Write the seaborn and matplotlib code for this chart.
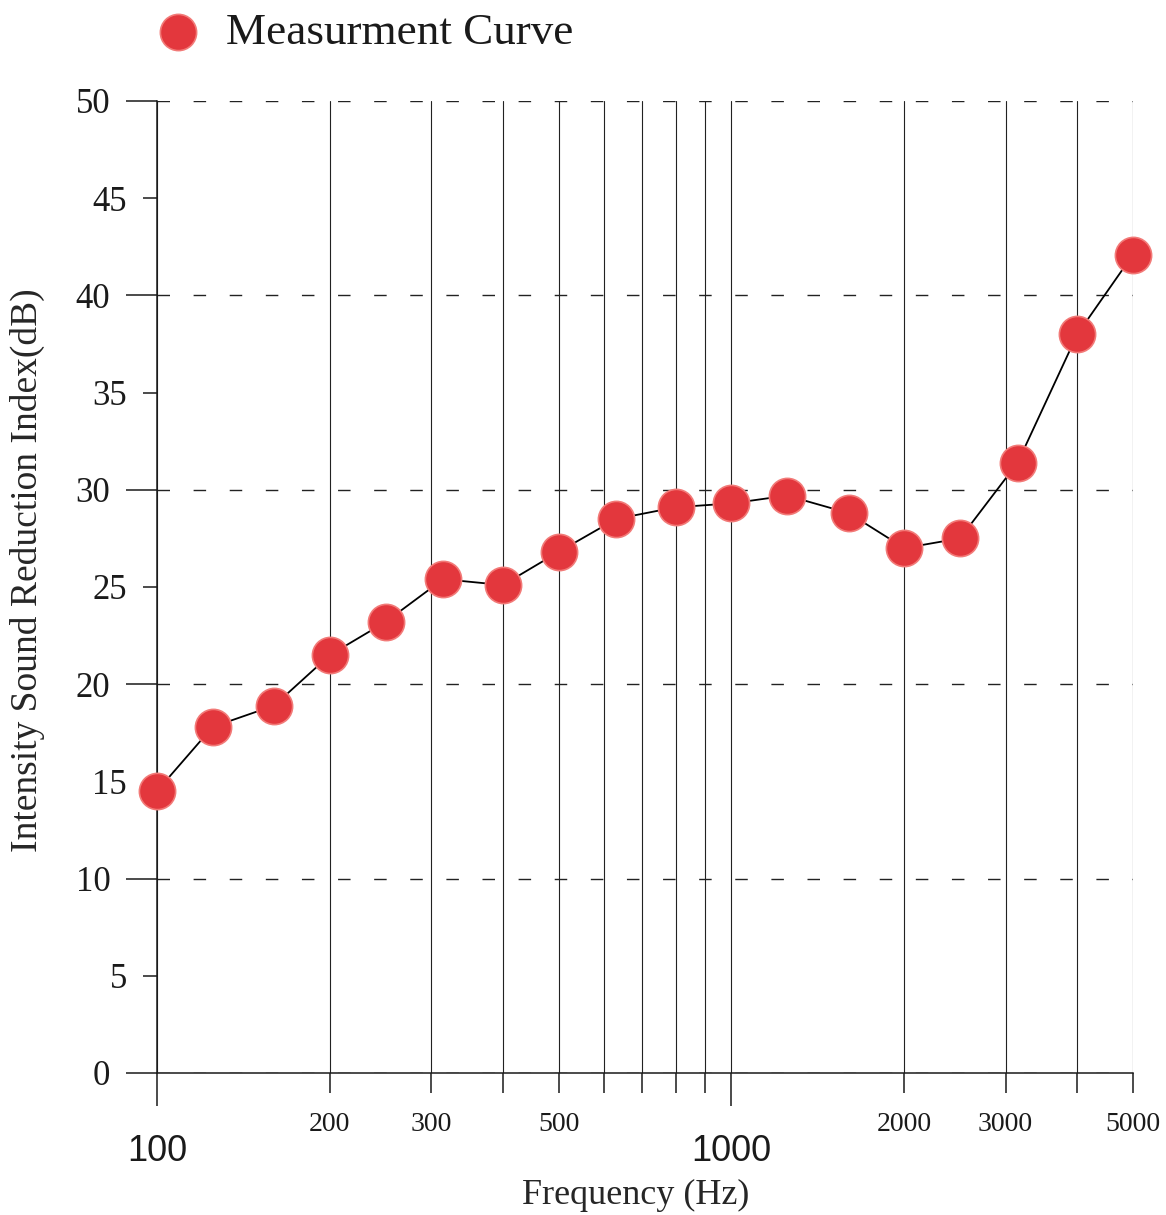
import numpy as np
import pandas as pd
import matplotlib
matplotlib.use("Agg")
import matplotlib.pyplot as plt
import seaborn as sns

# 1/3-octave band centre frequencies (Hz) and measured reduction index (dB)
freq_hz = [100, 125, 160, 200, 250, 315, 400, 500, 630, 800,
           1000, 1250, 1600, 2000, 2500, 3150, 4000, 5000]
sri_db = [14.5, 17.8, 18.9, 21.5, 23.2, 25.4, 25.1, 26.8, 28.5, 29.1,
          29.3, 29.7, 28.8, 27.0, 27.5, 31.4, 38.0, 42.1]

x_major = [100, 1000]
x_minor = [200, 300, 400, 500, 600, 700, 800, 900, 2000, 3000, 4000, 5000]
x_minor_labels = ["200", "300", "", "500", "", "", "", "", "2000", "3000", "", "5000"]
y_major = [0, 10, 20, 30, 40, 50]
y_minor = [5, 15, 25, 35, 45]

df = pd.DataFrame({"freq": freq_hz, "sri": sri_db})

sns.set_style("white")
plt.rcParams["font.family"] = ["Liberation Serif", "DejaVu Serif"]
plt.rcParams["text.color"] = "#1a1a1a"

fig = plt.figure(figsize=(11.66, 12.15), dpi=100)
ax = fig.add_axes([0.1346, 0.1169, 0.8371, 0.8])

sns.lineplot(data=df, x="freq", y="sri", color="black", lw=1.3, ax=ax, zorder=3)
sns.scatterplot(data=df, x="freq", y="sri", s=680, color="#e3373d",
                edgecolor="#f27a78", linewidth=1.2, zorder=4, clip_on=False,
                label="Measurment Curve", ax=ax)

ax.set_xscale("log")
ax.set_xlim(100, 5000)
ax.set_ylim(0, 50)

# x ticks: big sans labels at decades, small serif labels in between
ax.set_xticks(x_major)
ax.set_xticklabels([str(v) for v in x_major], family="Liberation Sans", fontsize=26)
ax.set_xticks(x_minor, minor=True)
ax.set_xticklabels(x_minor_labels, minor=True, fontsize=20)
ax.tick_params(axis="x", which="major", bottom=True, length=24, width=1.1, pad=20,
               direction="out", colors="#1a1a1a")
ax.tick_params(axis="x", which="minor", bottom=True, length=14.5, width=1.1, pad=13.5,
               direction="out", colors="#1a1a1a")

ax.set_yticks(y_major)
ax.set_yticks(y_minor, minor=True)
ax.set_yticklabels([str(v) for v in y_minor], minor=True)
ax.tick_params(axis="y", which="major", left=True, length=22, width=1.1, pad=11.5,
               labelsize=25, colors="#1a1a1a")
ax.tick_params(axis="y", which="minor", left=True, length=10, width=1.1, pad=11.5,
               labelsize=25, colors="#1a1a1a")

# grid: solid verticals, dashed horizontals
ax.grid(False)
ax.grid(True, axis="x", which="both", color="#222222", lw=0.8, ls="-")
ax.grid(True, axis="y", which="major", color="#222222", lw=1.0, ls=(0, (9, 17)))
ax.set_axisbelow(True)

for side in ["top", "right"]:
    ax.spines[side].set_visible(False)
for side in ["left", "bottom"]:
    ax.spines[side].set_linewidth(1.1)
    ax.spines[side].set_color("#1a1a1a")

ax.set_xlabel("Frequency (Hz)", fontsize=26)
ax.set_ylabel("Intensity Sound Reduction Index(dB)", fontsize=27)
ax.xaxis.set_label_coords(0.49, -0.109)
ax.yaxis.set_label_coords(-0.115, 0.517)

ax.legend(loc="center left", bbox_to_anchor=(0.1355, 0.973),
          bbox_transform=fig.transFigure, frameon=False, fontsize=32.5,
          handlelength=0.9, handletextpad=0.6, borderpad=0, borderaxespad=0)

fig.savefig("out.png", dpi=100)
